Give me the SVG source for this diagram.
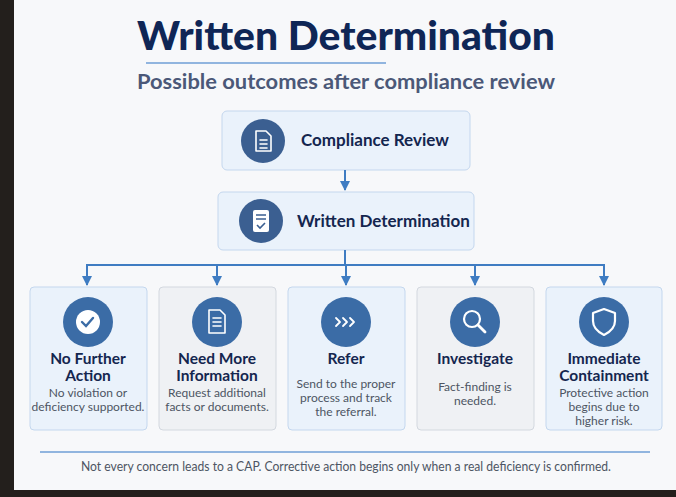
<svg xmlns="http://www.w3.org/2000/svg" width="676" height="497" viewBox="0 0 676 497">
<style>
text{font-family:Lato,"Liberation Sans",sans-serif}
.h{fill:#14264f;font-weight:bold;font-size:15.5px;text-anchor:middle}
.d{fill:#4d5563;font-size:12px;text-anchor:middle}
.c{fill:none;stroke:#3f7cc2;stroke-width:2}
.ic{fill:none;stroke:#fff;stroke-width:2.2;stroke-linecap:round;stroke-linejoin:round}
.blue{fill:#eaf2fb;stroke:#c4d7ee}
.grey{fill:#eff1f4;stroke:#d3d8df}
</style>
<defs><marker id="a" viewBox="0 0 10 10" refX="9" refY="5" markerWidth="5" markerHeight="5" orient="auto"><path d="M0,0L10,5L0,10z" fill="#3f7cc2"/></marker></defs>
<rect width="676" height="497" fill="#f7f8fa"/>
<rect x="0" y="0" width="14" height="497" fill="#231f1c"/>
<rect x="0" y="490" width="676" height="7" fill="#231f1c"/>
<text x="137" y="50" textLength="418" lengthAdjust="spacingAndGlyphs" font-size="40" font-weight="900" fill="#0f2656">Written Determination</text>
<line x1="146" y1="63" x2="386" y2="63" stroke="#6f9fd6" stroke-width="1.5"/>
<text x="137" y="89" textLength="418" lengthAdjust="spacingAndGlyphs" font-size="21" font-weight="bold" fill="#4b5878">Possible outcomes after compliance review</text>
<g id="n1"><rect x="222" y="111" width="248" height="59" rx="5" class="blue"/><circle cx="263" cy="141" r="22" fill="#3b5f91"/><path class="ic" d="M256,131h10l5,5v15h-15z M260,140h7 M260,144h7 M260,148h7" style="stroke-width:1.6"/><text x="301" y="146" font-size="17" font-weight="bold" fill="#14264f">Compliance Review</text></g>
<g id="n2"><rect x="218" y="192" width="256" height="58" rx="5" class="blue"/><circle cx="261" cy="221" r="22" fill="#3b5f91"/><rect x="253" y="210" width="16" height="22" rx="2" fill="#fff"/><path d="M256,215h10M256,219h10" stroke="#3b5f91" stroke-width="1.5"/><path d="M257,225l3,3l5,-5" fill="none" stroke="#3b5f91" stroke-width="1.6"/><text x="297" y="227" font-size="17" font-weight="bold" fill="#14264f">Written Determination</text></g>
<g id="connectors">
<line x1="345" y1="170" x2="345" y2="190" class="c" marker-end="url(#a)"/>
<path d="M345,250V265M87,265H604" class="c"/>
<line x1="87" y1="264" x2="87" y2="285" class="c" marker-end="url(#a)"/>
<line x1="217" y1="265" x2="217" y2="285" class="c" marker-end="url(#a)"/>
<line x1="346" y1="265" x2="346" y2="285" class="c" marker-end="url(#a)"/>
<line x1="475" y1="265" x2="475" y2="285" class="c" marker-end="url(#a)"/>
<line x1="604" y1="264" x2="604" y2="285" class="c" marker-end="url(#a)"/>
</g>
<g id="o1"><rect x="30" y="287" width="117" height="143" rx="4" class="blue"/><circle cx="88" cy="322" r="25" fill="#3b6ca6"/><circle cx="88" cy="322" r="12" fill="#fff"/><path d="M82,322l4,4l7,-8" fill="none" stroke="#3b6ca6" stroke-width="2.4" stroke-linecap="round"/><text class="h" x="88" y="364">No Further</text><text class="h" x="88" y="381">Action</text><text class="d" x="88" y="397">No violation or</text><text class="d" x="88" y="411">deficiency supported.</text></g>
<g id="o2"><rect x="159" y="287" width="117" height="143" rx="4" class="grey"/><circle cx="217" cy="322" r="25" fill="#3b6ca6"/><path class="ic" d="M209,310h11l5,5v18h-16z M213,318h8 M213,322h8 M213,326h8" style="stroke-width:1.6"/><text class="h" x="217" y="364">Need More</text><text class="h" x="217" y="381">Information</text><text class="d" x="217" y="397">Request additional</text><text class="d" x="217" y="411">facts or documents.</text></g>
<g id="o3"><rect x="288" y="287" width="117" height="143" rx="4" class="blue"/><circle cx="346" cy="322" r="25" fill="#3b6ca6"/><path class="ic" d="M336,318l4,4l-4,4M343,318l4,4l-4,4M350,318l4,4l-4,4" style="stroke-width:1.8"/><text class="h" x="346" y="364">Refer</text><text class="d" x="346" y="388">Send to the proper</text><text class="d" x="346" y="402">process and track</text><text class="d" x="346" y="416">the referral.</text></g>
<g id="o4"><rect x="417" y="287" width="117" height="143" rx="4" class="grey"/><circle cx="475" cy="322" r="25" fill="#3b6ca6"/><circle cx="472" cy="319" r="8" class="ic"/><path class="ic" d="M478,325l7,7" style="stroke-width:2.8"/><text class="h" x="475" y="364">Investigate</text><text class="d" x="475" y="391">Fact-finding is</text><text class="d" x="475" y="405">needed.</text></g>
<g id="o5"><rect x="546" y="287" width="116" height="143" rx="4" class="blue"/><circle cx="604" cy="322" r="25" fill="#3b6ca6"/><path class="ic" d="M604,309l11,4v8c0,7-5,11-11,14c-6,-3-11,-7-11,-14v-8z"/><text class="h" x="604" y="364">Immediate</text><text class="h" x="604" y="381">Containment</text><text class="d" x="604" y="397">Protective action</text><text class="d" x="604" y="411">begins due to</text><text class="d" x="604" y="425">higher risk.</text></g>
<line x1="40" y1="452" x2="650" y2="452" stroke="#6f9fd6" stroke-width="1.5"/>
<text x="81" y="471" textLength="530" lengthAdjust="spacingAndGlyphs" font-size="13" fill="#4d5563">Not every concern leads to a CAP. Corrective action begins only when a real deficiency is confirmed.</text>
</svg>
